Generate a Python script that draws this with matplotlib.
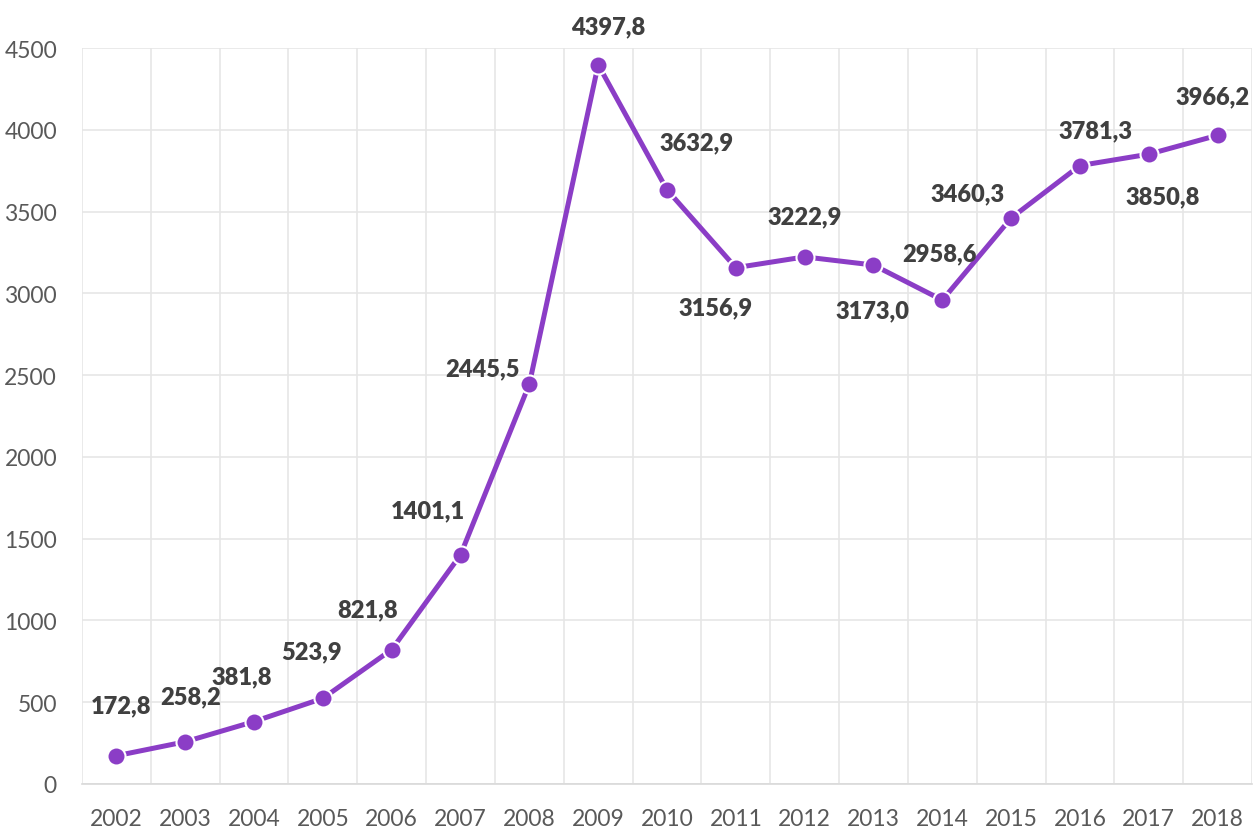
import matplotlib
matplotlib.use("Agg")
import matplotlib.pyplot as plt

years = [2002, 2003, 2004, 2005, 2006, 2007, 2008, 2009, 2010, 2011, 2012, 2013, 2014, 2015, 2016, 2017, 2018]
values = [172.8, 258.2, 381.8, 523.9, 821.8, 1401.1, 2445.5, 4397.8, 3632.9, 3156.9, 3222.9, 3173.0, 2958.6, 3460.3, 3781.3, 3850.8, 3966.2]

# label offsets in pixels (dx, dy)
offsets = [(5, 50), (5, 45), (-12, 45), (-11, 47), (-24, 40), (-33, 45), (-47, 16), (10, 38),
           (30, 48), (-20, -40), (0, 41), (-1, -45), (-3, 47), (-44, 25), (16, 35), (14, -42), (-5, 39)]

W, H = 1254, 829
fig = plt.figure(figsize=(W / 100, H / 100), dpi=100)
ax = fig.add_axes([82 / W, 1 - 785 / H, (1252 - 82) / W, (785 - 49) / H])

font = ['Lato', 'DejaVu Sans']
color = '#8B3DC6'
x = list(range(len(years)))
ax.plot(x, values, color=color, lw=3.6, marker='o', markersize=13,
        markerfacecolor=color, markeredgecolor='white', markeredgewidth=1.5, zorder=3, clip_on=False)

for xi, v, (dx, dy) in zip(x, values, offsets):
    ax.annotate(f"{v:.1f}".replace('.', ','), (xi, v), xytext=(dx, dy), textcoords='offset pixels',
                ha='center', va='center', fontsize=17, fontweight='heavy', color='#404040', family=font)

ax.set_xlim(-0.5, len(years) - 0.5)
ax.set_ylim(0, 4500)
ax.set_yticks(range(0, 4501, 500))
ax.set_xticks(x)
ax.set_xticklabels([str(y) for y in years])
ax.set_xticks([i - 0.5 for i in range(len(years) + 1)], minor=True)

ax.grid(axis='y', which='major', color='#E6E6E6', lw=1.2)
ax.grid(axis='x', which='minor', color='#E6E6E6', lw=1.2)
ax.set_axisbelow(True)
for s in ['top', 'right', 'left']:
    ax.spines[s].set_visible(False)
ax.spines['bottom'].set_color('#D9D9D9')
ax.spines['bottom'].set_linewidth(1.2)
ax.tick_params(axis='both', which='both', length=0, labelsize=16.5, labelcolor='#595959')
ax.tick_params(axis='x', pad=17)
ax.tick_params(axis='y', pad=18)
for lab in ax.get_xticklabels() + ax.get_yticklabels():
    lab.set_family(font)

fig.savefig('out.png', dpi=100)
